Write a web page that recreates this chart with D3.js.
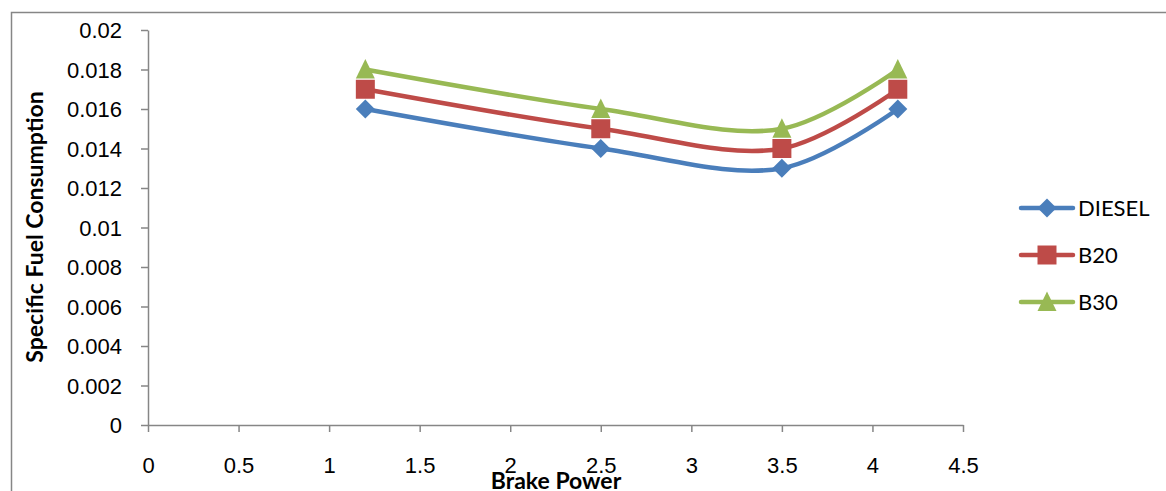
<!DOCTYPE html>
<html>
<head>
<meta charset="utf-8">
<script src="https://cdn.jsdelivr.net/npm/d3@7"></script>
<style>
  body { margin: 0; background: #fff; }
  svg { display: block; font-family: Lato, "Open Sans", sans-serif; }
  .axis path, .axis line { stroke: #868686; stroke-width: 1.5; }
  .axis text { font-size: 22px; fill: #000; }
  .title { font-size: 23px; font-weight: bold; }
  .legend text { font-size: 22px; }
</style>
</head>
<body>
<svg id="chart" width="1166" height="491"></svg>
<script>
var brakePower = [1.2, 2.5, 3.5, 4.14];
var diesel = [0.016, 0.014, 0.013, 0.016];
var b20 = [0.017, 0.015, 0.014, 0.017];
var b30 = [0.018, 0.016, 0.015, 0.018];
var xTicks = [0, 0.5, 1, 1.5, 2, 2.5, 3, 3.5, 4, 4.5];
var yTicks = [0, 0.002, 0.004, 0.006, 0.008, 0.01, 0.012, 0.014, 0.016, 0.018, 0.02];

var series = [
  {name: "DIESEL", values: diesel, color: "#4a7ebb", marker: "diamond"},
  {name: "B20", values: b20, color: "#be4b48", marker: "square"},
  {name: "B30", values: b30, color: "#98b954", marker: "triangle"}
];

var margin = {top: 30, left: 148};
var width = 963 - margin.left;
var height = 425 - margin.top;

var svg = d3.select("#chart");

// outer chart border (runs off the right and bottom edge)
svg.append("rect")
    .attr("x", 11.5)
    .attr("y", 12.5)
    .attr("width", 1200)
    .attr("height", 600)
    .attr("fill", "none")
    .attr("stroke", "#868686")
    .attr("stroke-width", 1.5);

var xScale = d3.scaleLinear().domain([0, 4.5]).range([0, width]);
var yScale = d3.scaleLinear().domain([0, 0.02]).range([height, 0]);

var chart = svg.append("g")
    .attr("transform", `translate(${margin.left}, ${margin.top})`);

var xAxis = d3.axisBottom(xScale)
    .tickValues(xTicks)
    .tickSizeInner(7)
    .tickSizeOuter(0)
    .tickPadding(25)
    .tickFormat(function(d) { return String(d); });

var yAxis = d3.axisLeft(yScale)
    .tickValues(yTicks)
    .tickSizeInner(7)
    .tickSizeOuter(0)
    .tickPadding(19)
    .tickFormat(function(d) { return String(+d.toFixed(3)); });

chart.append("g")
    .attr("class", "x axis")
    .attr("transform", `translate(0, ${height})`)
    .call(xAxis);

chart.append("g")
    .attr("class", "y axis")
    .call(yAxis);

chart.selectAll(".y.axis .tick text").attr("dy", "0.35em");

svg.append("text")
    .attr("class", "title")
    .attr("transform", "rotate(-90)")
    .attr("x", -227)
    .attr("y", 43)
    .style("text-anchor", "middle")
    .text("Specific Fuel Consumption");

svg.append("text")
    .attr("class", "title")
    .attr("x", 556)
    .attr("y", 489)
    .style("text-anchor", "middle")
    .text("Brake Power");

var line = d3.line()
    .x(function(d, i) { return xScale(brakePower[i]); })
    .y(function(d) { return yScale(d); })
    .curve(d3.curveCatmullRom.alpha(0.5));

function markerPath(type) {
  if (type === "diamond") {
    return "M0,-9.5L9.5,0L0,9.5L-9.5,0Z";
  }
  if (type === "square") {
    return "M-9.5,-9.5L9.5,-9.5L9.5,9.5L-9.5,9.5Z";
  }
  return "M0,-10.5L9.5,9L-9.5,9Z";
}

series.forEach(function(s) {
  chart.append("path")
      .attr("d", line(s.values))
      .attr("fill", "none")
      .attr("stroke", s.color)
      .attr("stroke-width", 4.5)
      .attr("stroke-linecap", "round");

  chart.selectAll(null)
      .data(s.values)
      .enter().append("path")
          .attr("d", markerPath(s.marker))
          .attr("transform", function(d, i) {
              return `translate(${xScale(brakePower[i])}, ${yScale(d)})`; })
          .attr("fill", s.color);
});

var legend = svg.append("g")
    .attr("class", "legend")
    .attr("transform", "translate(1021, 208)");

var item = legend.selectAll("g")
    .data(series)
    .enter().append("g")
        .attr("transform", function(d, i) { return `translate(0, ${i * 47})`; });

item.append("line")
    .attr("x1", 0)
    .attr("x2", 52)
    .attr("stroke", function(d) { return d.color; })
    .attr("stroke-width", 4.5)
    .attr("stroke-linecap", "round");

item.append("path")
    .attr("d", function(d) { return markerPath(d.marker); })
    .attr("transform", "translate(26, 0)")
    .attr("fill", function(d) { return d.color; });

item.append("text")
    .attr("x", 57)
    .attr("dy", "0.35em")
    .text(function(d) { return d.name; });
</script>
</body>
</html>
